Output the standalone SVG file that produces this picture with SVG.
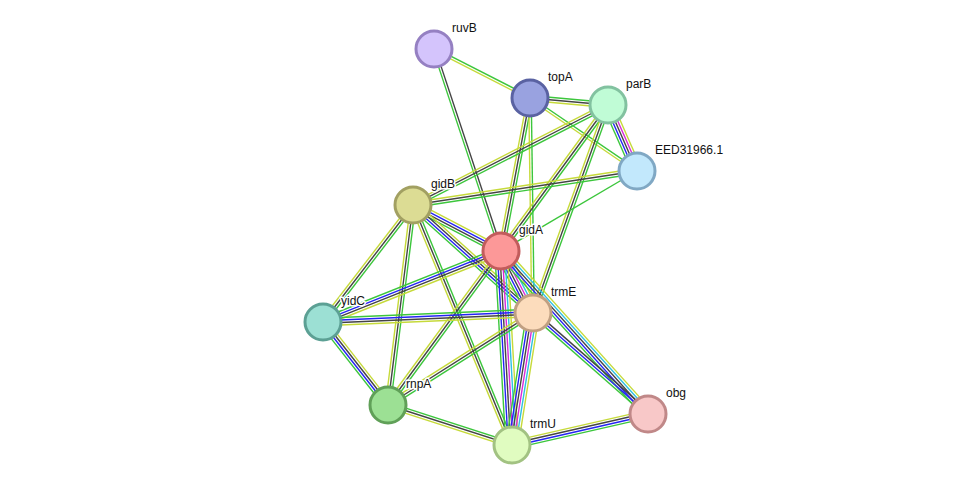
<svg xmlns="http://www.w3.org/2000/svg" xmlns:xlink="http://www.w3.org/1999/xlink" width="976" height="491" viewBox="0 0 976 491">
<style>
line{stroke-width:1.4;fill:none}
.g{stroke:#3cc63c}.y{stroke:#c6da3a}.k{stroke:#444}.b{stroke:#2424f4}.c{stroke:#2fc0e2}.m{stroke:#d82ad8}
.node circle{stroke-width:3}
text{font-family:"Liberation Sans",Arial,sans-serif;font-size:12px;fill:#111;stroke:#fff;stroke-width:3;paint-order:stroke;stroke-linejoin:round}
</style>
<defs>
<g id="P1g"><line class="g" x2="1"/></g>
<g id="P2gy"><line class="g" x2="1" y1="-1.25" y2="-1.25"/><line class="y" x2="1" y1="1.25" y2="1.25"/></g>
<g id="P2kg"><line class="k" x2="1" y1="-1.25" y2="-1.25"/><line class="g" x2="1" y1="1.25" y2="1.25"/></g>
<g id="P3gky"><line class="g" x2="1" y1="-2.5" y2="-2.5"/><line class="k" x2="1"/><line class="y" x2="1" y1="2.5" y2="2.5"/></g>
<g id="P3kbg"><line class="k" x2="1" y1="-2.5" y2="-2.5"/><line class="b" x2="1"/><line class="g" x2="1" y1="2.5" y2="2.5"/></g>
<g id="P4ykbg"><line class="y" x2="1" y1="-3.75" y2="-3.75"/><line class="k" x2="1" y1="-1.25" y2="-1.25"/><line class="b" x2="1" y1="1.25" y2="1.25"/><line class="g" x2="1" y1="3.75" y2="3.75"/></g>
<g id="P4ybkg"><line class="y" x2="1" y1="-3.75" y2="-3.75"/><line class="b" x2="1" y1="-1.25" y2="-1.25"/><line class="k" x2="1" y1="1.25" y2="1.25"/><line class="g" x2="1" y1="3.75" y2="3.75"/></g>
<g id="P5ycbkg"><line class="y" x2="1" y1="-5" y2="-5"/><line class="c" x2="1" y1="-2.5" y2="-2.5"/><line class="k" x2="1"/><line class="b" x2="1" y1="2.5" y2="2.5"/><line class="g" x2="1" y1="5" y2="5"/></g>
<g id="P5ymkbg"><line class="y" x2="1" y1="-5" y2="-5"/><line class="m" x2="1" y1="-2.5" y2="-2.5"/><line class="k" x2="1"/><line class="b" x2="1" y1="2.5" y2="2.5"/><line class="g" x2="1" y1="5" y2="5"/></g>
<g id="P6"><line class="y" x2="1" y1="-6.25" y2="-6.25"/><line class="c" x2="1" y1="-3.75" y2="-3.75"/><line class="m" x2="1" y1="-1.25" y2="-1.25"/><line class="k" x2="1" y1="1.25" y2="1.25"/><line class="b" x2="1" y1="3.75" y2="3.75"/><line class="g" x2="1" y1="6.25" y2="6.25"/></g>
</defs>
<rect width="976" height="491" fill="#fff"/>
<g id="connectors">
<use id="e-ruvB-topA" xlink:href="#P2gy" href="#P2gy" transform="translate(434,49) rotate(27.04) scale(107.8,1)"/>
<use id="e-ruvB-gidA" xlink:href="#P2kg" href="#P2kg" transform="translate(434,49) rotate(71.65) scale(212.8,1)"/>
<use id="e-topA-parB" xlink:href="#P3gky" href="#P3gky" transform="translate(530,98) rotate(5.13) scale(78.3,1)"/>
<use id="e-topA-EED" xlink:href="#P2gy" href="#P2gy" transform="translate(530,98) rotate(34.30) scale(129.5,1)"/>
<use id="e-topA-gidA" xlink:href="#P3gky" href="#P3gky" transform="translate(530,98) rotate(100.73) scale(155.7,1)"/>
<use id="e-topA-trmE" xlink:href="#P2gy" href="#P2gy" transform="translate(530,98) rotate(89.20) scale(215,1)"/>
<use id="e-parB-EED" xlink:href="#P5ymkbg" href="#P5ymkbg" transform="translate(608,105) rotate(66.28) scale(72.1,1)"/>
<use id="e-parB-gidB" xlink:href="#P3gky" href="#P3gky" transform="translate(608,105) rotate(152.85) scale(219.1,1)"/>
<use id="e-parB-gidA" xlink:href="#P3gky" href="#P3gky" transform="translate(608,105) rotate(126.23) scale(181,1)"/>
<use id="e-parB-trmE" xlink:href="#P3gky" href="#P3gky" transform="translate(608,105) rotate(109.83) scale(221.1,1)"/>
<use id="e-EED-gidB" xlink:href="#P3gky" href="#P3gky" transform="translate(637,171) rotate(171.37) scale(226.6,1)"/>
<use id="e-EED-gidA" xlink:href="#P1g" href="#P1g" transform="translate(637,171) rotate(149.53) scale(157.8,1)"/>
<use id="e-gidB-gidA" xlink:href="#P4ybkg" href="#P4ybkg" transform="translate(413,205) rotate(27.60) scale(99.3,1)"/>
<use id="e-gidB-trmE" xlink:href="#P4ykbg" href="#P4ykbg" transform="translate(413,205) rotate(41.99) scale(161.4,1)"/>
<use id="e-gidB-yidC" xlink:href="#P3gky" href="#P3gky" transform="translate(413,205) rotate(127.57) scale(147.6,1)"/>
<use id="e-gidB-rnpA" xlink:href="#P3gky" href="#P3gky" transform="translate(413,205) rotate(97.13) scale(201.6,1)"/>
<use id="e-gidB-trmU" xlink:href="#P3gky" href="#P3gky" transform="translate(413,205) rotate(67.58) scale(259.6,1)"/>
<use id="e-gidA-trmE" xlink:href="#P6" href="#P6" transform="translate(501,251) rotate(62.70) scale(69.8,1)"/>
<use id="e-gidA-trmU" xlink:href="#P6" href="#P6" transform="translate(501,251) rotate(86.75) scale(194.3,1)"/>
<use id="e-gidA-obg" xlink:href="#P5ycbkg" href="#P5ycbkg" transform="translate(501,251) rotate(47.95) scale(219.5,1)"/>
<use id="e-gidA-yidC" xlink:href="#P4ykbg" href="#P4ykbg" transform="translate(501,251) rotate(158.25) scale(191.6,1)"/>
<use id="e-gidA-rnpA" xlink:href="#P3gky" href="#P3gky" transform="translate(501,251) rotate(126.27) scale(191,1)"/>
<use id="e-trmE-yidC" xlink:href="#P4ykbg" href="#P4ykbg" transform="translate(533,313) rotate(177.55) scale(210.2,1)"/>
<use id="e-trmE-trmU" xlink:href="#P6" href="#P6" transform="translate(533,313) rotate(99.04) scale(133.7,1)"/>
<use id="e-trmE-obg" xlink:href="#P3kbg" href="#P3kbg" transform="translate(533,313) rotate(41.29) scale(153.1,1)"/>
<use id="e-trmE-rnpA" xlink:href="#P3gky" href="#P3gky" transform="translate(533,313) rotate(147.61) scale(171.7,1)"/>
<use id="e-yidC-rnpA" xlink:href="#P4ykbg" href="#P4ykbg" transform="translate(323,322) rotate(51.93) scale(105.4,1)"/>
<use id="e-rnpA-trmU" xlink:href="#P3gky" href="#P3gky" transform="translate(388,405) rotate(17.88) scale(130.3,1)"/>
<use id="e-trmU-obg" xlink:href="#P4ykbg" href="#P4ykbg" transform="translate(512,445) rotate(-12.84) scale(139.5,1)"/>
</g>
<g id="ruvB" class="node"><circle cx="434" cy="49" r="18" fill="#d4c4fc" stroke="#9580c2"/><text x="452" y="32">ruvB</text></g>
<g id="topA" class="node"><circle cx="530" cy="98" r="18" fill="#99a2e0" stroke="#5a62a2"/><text x="548" y="81">topA</text></g>
<g id="parB" class="node"><circle cx="608" cy="105" r="18" fill="#c0fcd6" stroke="#82c2a0"/><text x="626" y="88">parB</text></g>
<g id="EED31966.1" class="node"><circle cx="637" cy="171" r="18" fill="#c2e8fc" stroke="#80a8c4"/><text x="655" y="154">EED31966.1</text></g>
<g id="gidB" class="node"><circle cx="413" cy="205" r="18" fill="#dcdc94" stroke="#a2a062"/><text x="431" y="188">gidB</text></g>
<g id="gidA" class="node"><circle cx="501" cy="251" r="18" fill="#fc9898" stroke="#c25c5c"/><text x="519" y="234">gidA</text></g>
<g id="trmE" class="node"><circle cx="533" cy="313" r="18" fill="#fcdcbc" stroke="#c0a082"/><text x="551" y="296">trmE</text></g>
<g id="yidC" class="node"><circle cx="323" cy="322" r="18" fill="#9ce0d4" stroke="#5ca094"/><text x="341" y="305">yidC</text></g>
<g id="rnpA" class="node"><circle cx="388" cy="405" r="18" fill="#9ce094" stroke="#60a058"/><text x="406" y="388">rnpA</text></g>
<g id="trmU" class="node"><circle cx="512" cy="445" r="18" fill="#e0fcc0" stroke="#a2c282"/><text x="530" y="428">trmU</text></g>
<g id="obg" class="node"><circle cx="648" cy="414" r="18" fill="#f8c8c8" stroke="#c08888"/><text x="666" y="397">obg</text></g>
</svg>
